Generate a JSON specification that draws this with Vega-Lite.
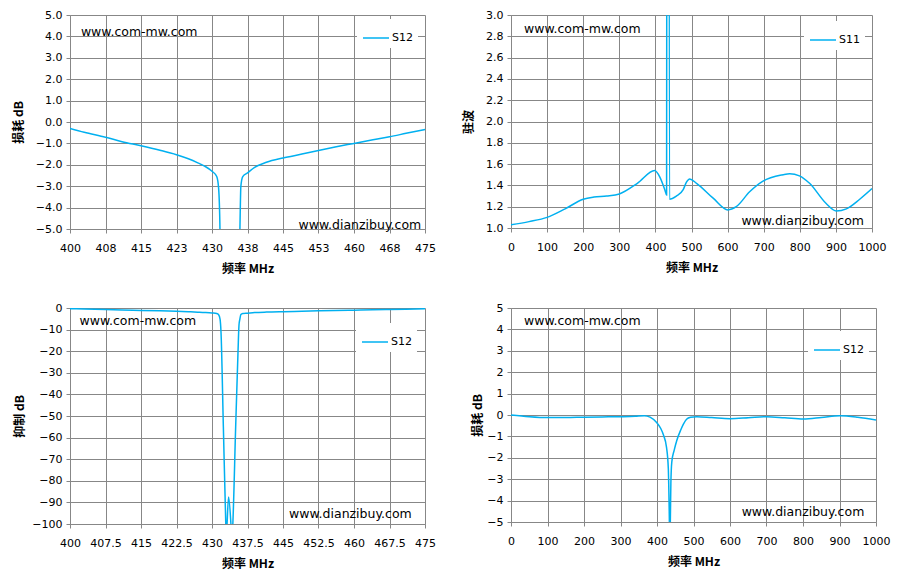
{
  "$schema": "https://vega.github.io/schema/vega-lite/v6.json",
  "padding": {"left": 12, "top": 9, "right": 5, "bottom": 5},
  "background": "white",
  "datasets": {
    "narrow": [
      {"f": 400, "db": -0.30}, {"f": 403, "db": -0.48}, {"f": 407.5, "db": -0.71},
      {"f": 411, "db": -0.92}, {"f": 415, "db": -1.11}, {"f": 419, "db": -1.32},
      {"f": 422.5, "db": -1.53}, {"f": 425, "db": -1.72}, {"f": 427, "db": -1.91},
      {"f": 428.5, "db": -2.07}, {"f": 430, "db": -2.30}, {"f": 431, "db": -2.55},
      {"f": 431.4, "db": -3.1}, {"f": 431.7, "db": -5.2}, {"f": 431.9, "db": -11},
      {"f": 432.4, "db": -55}, {"f": 432.9, "db": -99}, {"f": 433.0, "db": -106},
      {"f": 433.5, "db": -87.5}, {"f": 434.0, "db": -100}, {"f": 434.2, "db": -108},
      {"f": 434.4, "db": -100}, {"f": 435.0, "db": -55}, {"f": 435.5, "db": -20},
      {"f": 435.7, "db": -8}, {"f": 435.9, "db": -5}, {"f": 436.1, "db": -3.0},
      {"f": 436.5, "db": -2.55}, {"f": 437.5, "db": -2.38}, {"f": 439, "db": -2.12},
      {"f": 441.5, "db": -1.88}, {"f": 445, "db": -1.68}, {"f": 449, "db": -1.50},
      {"f": 452.5, "db": -1.33}, {"f": 456, "db": -1.17}, {"f": 460, "db": -1.00},
      {"f": 464, "db": -0.83}, {"f": 467.5, "db": -0.69}, {"f": 471, "db": -0.53},
      {"f": 475, "db": -0.35}
    ],
    "vswr": [
      {"f": 0, "s11": 1.03}, {"f": 50, "s11": 1.06}, {"f": 100, "s11": 1.10},
      {"f": 150, "s11": 1.18}, {"f": 200, "s11": 1.27}, {"f": 230, "s11": 1.29},
      {"f": 265, "s11": 1.30}, {"f": 300, "s11": 1.32}, {"f": 350, "s11": 1.42},
      {"f": 398, "s11": 1.54}, {"f": 412, "s11": 1.48}, {"f": 426, "s11": 1.36},
      {"f": 431, "s11": 1.31}, {"f": 433, "s11": 10}, {"f": 435, "s11": 40},
      {"f": 437, "s11": 10}, {"f": 439, "s11": 1.27}, {"f": 458, "s11": 1.30},
      {"f": 477, "s11": 1.36}, {"f": 486, "s11": 1.43}, {"f": 495, "s11": 1.46},
      {"f": 514, "s11": 1.42}, {"f": 560, "s11": 1.28}, {"f": 601, "s11": 1.17},
      {"f": 624, "s11": 1.20}, {"f": 661, "s11": 1.34}, {"f": 698, "s11": 1.44},
      {"f": 753, "s11": 1.50}, {"f": 772, "s11": 1.51}, {"f": 799, "s11": 1.49},
      {"f": 827, "s11": 1.42}, {"f": 873, "s11": 1.23}, {"f": 901, "s11": 1.16},
      {"f": 929, "s11": 1.18}, {"f": 966, "s11": 1.27}, {"f": 1000, "s11": 1.37}
    ],
    "wide": [
      {"f": 0, "db": 0.00}, {"f": 50, "db": -0.08}, {"f": 100, "db": -0.12},
      {"f": 150, "db": -0.12}, {"f": 200, "db": -0.10}, {"f": 250, "db": -0.09},
      {"f": 300, "db": -0.08}, {"f": 340, "db": -0.06}, {"f": 365, "db": -0.03},
      {"f": 381, "db": -0.10}, {"f": 399, "db": -0.35}, {"f": 410, "db": -0.62},
      {"f": 418, "db": -0.95}, {"f": 426, "db": -1.5}, {"f": 431, "db": -2.5},
      {"f": 433.5, "db": -4.5}, {"f": 435, "db": -6}, {"f": 436.5, "db": -5},
      {"f": 438, "db": -3.2}, {"f": 440.5, "db": -2.2}, {"f": 447, "db": -1.65},
      {"f": 454, "db": -1.2}, {"f": 465, "db": -0.7}, {"f": 472, "db": -0.44},
      {"f": 481, "db": -0.2}, {"f": 492, "db": -0.11}, {"f": 509, "db": -0.08},
      {"f": 550, "db": -0.12}, {"f": 600, "db": -0.17}, {"f": 650, "db": -0.13},
      {"f": 700, "db": -0.08}, {"f": 750, "db": -0.13}, {"f": 801, "db": -0.19},
      {"f": 850, "db": -0.12}, {"f": 901, "db": -0.03}, {"f": 950, "db": -0.10},
      {"f": 1000, "db": -0.23}
    ]
  },
  "columns": 2,
  "spacing": {"column": 26, "row": 28},
  "resolve": {"scale": {"color": "independent"}, "legend": {"color": "independent"}},
  "concat": [
    {
      "width": 355,
      "height": 214,
      "layer": [
        {
          "data": {"name": "narrow"},
          "mark": {"type": "line", "clip": true, "interpolate": "monotone", "strokeWidth": 1.5},
          "encoding": {
            "x": {
              "field": "f", "type": "quantitative", "title": "频率 MHz",
              "scale": {"domain": [400, 475], "nice": false, "zero": false},
              "axis": {"values": [400, 407.5, 415, 422.5, 430, 437.5, 445, 452.5, 460, 467.5, 475], "tickCount": 20, "format": ".0f"}
            },
            "y": {
              "field": "db", "type": "quantitative", "title": "损耗 dB",
              "scale": {"domain": [-5, 5], "nice": false},
              "axis": {"values": [-5, -4, -3, -2, -1, 0, 1, 2, 3, 4, 5], "tickCount": 20, "format": ".1f"}
            },
            "color": {
              "datum": "S12", "scale": {"range": ["#00B0F0"]},
              "legend": {"legendX": 287, "legendY": 4}
            }
          }
        },
        {
          "data": {"values": [{}]},
          "mark": {"type": "text", "text": "www.com-mw.com", "align": "left", "baseline": "middle"},
          "encoding": {"x": {"datum": 402.3}, "y": {"datum": 4.21}}
        },
        {
          "data": {"values": [{}]},
          "mark": {"type": "text", "text": "www.dianzibuy.com", "align": "right", "baseline": "middle"},
          "encoding": {"x": {"datum": 474.2}, "y": {"datum": -4.8}}
        }
      ]
    },
    {
      "width": 361,
      "height": 213,
      "layer": [
        {
          "data": {"name": "vswr"},
          "mark": {"type": "line", "clip": true, "interpolate": "monotone", "strokeWidth": 1.5},
          "encoding": {
            "x": {
              "field": "f", "type": "quantitative", "title": "频率 MHz",
              "scale": {"domain": [0, 1000], "nice": false},
              "axis": {"values": [0, 100, 200, 300, 400, 500, 600, 700, 800, 900, 1000], "tickCount": 20, "format": "d"}
            },
            "y": {
              "field": "s11", "type": "quantitative", "title": "驻波",
              "scale": {"domain": [1, 3], "nice": false, "zero": false},
              "axis": {"values": [1, 1.2, 1.4, 1.6, 1.8, 2, 2.2, 2.4, 2.6, 2.8, 3], "tickCount": 20, "format": ".1f"}
            },
            "color": {
              "datum": "S11", "scale": {"range": ["#00B0F0"]},
              "legend": {"legendX": 293, "legendY": 6}
            }
          }
        },
        {
          "data": {"values": [{}]},
          "mark": {"type": "text", "text": "www.com-mw.com", "align": "left", "baseline": "middle"},
          "encoding": {"x": {"datum": 36}, "y": {"datum": 2.865}}
        },
        {
          "data": {"values": [{}]},
          "mark": {"type": "text", "text": "www.dianzibuy.com", "align": "right", "baseline": "middle"},
          "encoding": {"x": {"datum": 978}, "y": {"datum": 1.07}}
        }
      ]
    },
    {
      "width": 355,
      "height": 216,
      "layer": [
        {
          "data": {"name": "narrow"},
          "mark": {"type": "line", "clip": true, "interpolate": "monotone", "strokeWidth": 1.5},
          "encoding": {
            "x": {
              "field": "f", "type": "quantitative", "title": "频率 MHz",
              "scale": {"domain": [400, 475], "nice": false, "zero": false},
              "axis": {"values": [400, 407.5, 415, 422.5, 430, 437.5, 445, 452.5, 460, 467.5, 475], "tickCount": 20, "labelExpr": "'' + datum.value"}
            },
            "y": {
              "field": "db", "type": "quantitative", "title": "抑制 dB",
              "scale": {"domain": [-100, 0], "nice": false},
              "axis": {"values": [-100, -90, -80, -70, -60, -50, -40, -30, -20, -10, 0], "tickCount": 20, "format": "d", "titlePadding": 5}
            },
            "color": {
              "datum": "S12", "scale": {"range": ["#00B0F0"]},
              "legend": {"legendX": 286, "legendY": 15}
            }
          }
        },
        {
          "data": {"values": [{}]},
          "mark": {"type": "text", "text": "www.com-mw.com", "align": "left", "baseline": "middle"},
          "encoding": {"x": {"datum": 402.0}, "y": {"datum": -6.2}}
        },
        {
          "data": {"values": [{}]},
          "mark": {"type": "text", "text": "www.dianzibuy.com", "align": "right", "baseline": "middle"},
          "encoding": {"x": {"datum": 472.2}, "y": {"datum": -95.4}}
        }
      ]
    },
    {
      "width": 365,
      "height": 214,
      "layer": [
        {
          "data": {"name": "wide"},
          "mark": {"type": "line", "clip": true, "interpolate": "monotone", "strokeWidth": 1.5},
          "encoding": {
            "x": {
              "field": "f", "type": "quantitative", "title": "频率 MHz",
              "scale": {"domain": [0, 1000], "nice": false},
              "axis": {"values": [0, 100, 200, 300, 400, 500, 600, 700, 800, 900, 1000], "tickCount": 20, "format": "d"}
            },
            "y": {
              "field": "db", "type": "quantitative", "title": "损耗 dB",
              "scale": {"domain": [-5, 5], "nice": false},
              "axis": {"values": [-5, -4, -3, -2, -1, 0, 1, 2, 3, 4, 5], "tickCount": 20, "format": "d", "titlePadding": 2}
            },
            "color": {
              "datum": "S12", "scale": {"range": ["#00B0F0"]},
              "legend": {"legendX": 297, "legendY": 23}
            }
          }
        },
        {
          "data": {"values": [{}]},
          "mark": {"type": "text", "text": "www.com-mw.com", "align": "left", "baseline": "middle"},
          "encoding": {"x": {"datum": 35.6}, "y": {"datum": 4.41}}
        },
        {
          "data": {"values": [{}]},
          "mark": {"type": "text", "text": "www.dianzibuy.com", "align": "right", "baseline": "middle"},
          "encoding": {"x": {"datum": 968}, "y": {"datum": -4.53}}
        }
      ]
    }
  ],
  "config": {
    "view": {"stroke": null},
    "font": "DejaVu Sans",
    "axis": {
      "grid": true,
      "gridColor": "#878787",
      "gridWidth": 1,
      "gridOpacity": 1,
      "domainColor": "#878787",
      "tickColor": "#878787",
      "tickSize": 4,
      "labelFont": "DejaVu Sans",
      "labelFontSize": 11,
      "labelColor": "#000000",
      "labelFlush": false,
      "labelOverlap": false,
      "titleFont": "Noto Sans CJK SC",
      "titleFontSize": 12,
      "titleFontWeight": "bold",
      "titleColor": "#000000"
    },
    "axisX": {"labelPadding": 9, "titlePadding": 10},
    "axisY": {"labelPadding": 4, "titlePadding": 10},
    "legend": {
      "orient": "none",
      "title": null,
      "fillColor": "white",
      "padding": 5,
      "symbolType": "stroke",
      "symbolSize": 676,
      "symbolStrokeWidth": 1.5,
      "labelFont": "DejaVu Sans",
      "labelFontSize": 11,
      "labelColor": "#000000",
      "labelOffset": 2
    },
    "text": {"font": "DejaVu Sans", "fontSize": 12.5, "color": "#000000"}
  }
}
